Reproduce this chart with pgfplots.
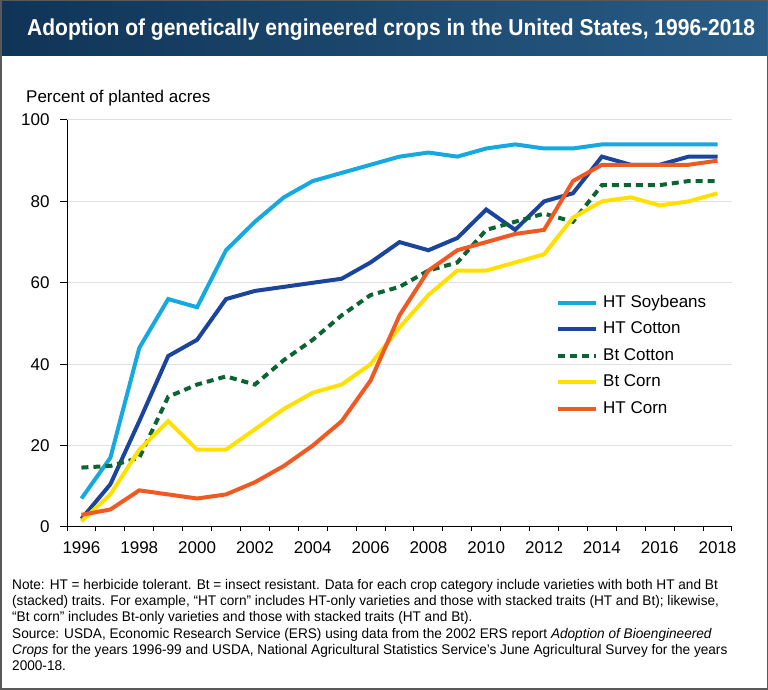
\documentclass[border=0pt]{standalone}
\usepackage{fontspec}
\setmainfont{Liberation Sans}
\newfontfamily\titlefont[FakeStretch=0.914]{Liberation Sans}
\newfontfamily\notefont[FakeStretch=0.973]{Liberation Sans}
\usepackage{pgfplots}
\pgfplotsset{compat=1.18}
\definecolor{htsoy}{RGB}{22,168,224}
\definecolor{htcot}{RGB}{27,68,156}
\definecolor{btcot}{RGB}{12,100,50}
\definecolor{btcorn}{RGB}{255,224,0}
\definecolor{htcorn}{RGB}{240,90,34}
\definecolor{bandL}{RGB}{16,52,86}
\definecolor{bandR}{RGB}{40,92,134}
\pgfplotstableread{
year soy htcot btcot btcorn htcorn
1996 7 2 14.6 1.4 3
1997 17 10.5 15 8 4.3
1998 44 26 17 19 9
1999 56 42 32 26 8
2000 54 46 35 19 7
2001 68 56 37 19 8
2002 75 58 35 24 11
2003 81 59 41 29 15
2004 85 60 46 33 20
2005 87 61 52 35 26
2006 89 65 57 40 36
2007 91 70 59 49 52
2008 92 68 63 57 63
2009 91 71 65 63 68
2010 93 78 73 63 70
2011 94 73 75 65 72
2012 93 80 77 67 73
2013 93 82 75 76 85
2014 94 91 84 80 89
2015 94 89 84 81 89
2016 94 89 84 79 89
2017 94 91 85 80 89
2018 94 91 85 82 90
}\datatable
\begin{document}
\begin{tikzpicture}[x=1pt,y=1pt]
\path[use as bounding box] (0,0) rectangle (768,690);
\shade[left color=bandL, right color=bandR] (0,634) rectangle (768,690);
\node[anchor=base west, text=white, inner sep=0pt, font=\titlefont\bfseries\fontsize{23}{26}\selectfont] at (27,654) {Adoption of genetically engineered crops in the United States, 1996-2018};
\node[anchor=base west, inner sep=0pt, font=\fontsize{17}{20}\selectfont] at (26,587) {Percent of planted acres};
\begin{axis}[
  at={(67pt,163pt)}, anchor=south west,
  scale only axis, width=665pt, height=407pt,
  xmin=1995.5, xmax=2018.5, ymin=0, ymax=100,
  axis x line*=bottom, axis y line*=left,
  axis line style={black, line width=1pt},
  xtick={1996,1998,...,2018},
  minor xtick={1995.5,1996.5,...,2018.5},
  major x tick style={draw=none},
  minor x tick style={black, line width=1pt},
  ytick={0,20,...,100},
  major y tick style={black, line width=1pt},
  tick align=outside,
  major tick length=7pt, minor tick length=4pt,
  ymajorgrids,
  major grid style={color=black!12, line width=1pt},
  /pgf/number format/assume math mode=true,
  /pgf/number format/1000 sep={},
  ticklabel style={font=\fontsize{17}{20}\selectfont},
  yticklabel style={xshift=-7pt},
  xticklabel style={yshift=-4pt},
  legend style={at={(axis description cs:0.7353,0.5725)}, anchor=north west,
    draw=none, fill=none, inner sep=0pt, row sep=9.5pt,
    nodes={inner sep=0pt, text height=13pt, text depth=4pt},
    font=\fontsize{17}{20}\selectfont,
    /tikz/every odd column/.append style={column sep=5pt}},
  legend cell align=left,
  legend image code/.code={\draw[#1] (0pt,0pt) -- (38pt,0pt);},
]
\addplot[htsoy, line width=4pt] table[x=year,y=soy]{\datatable};
\addlegendentry{HT Soybeans}
\addplot[htcot, line width=4pt] table[x=year,y=htcot]{\datatable};
\addlegendentry{HT Cotton}
\addplot[btcot, line width=4pt, dash pattern=on 7pt off 5pt] table[x=year,y=btcot]{\datatable};
\addlegendentry{Bt Cotton}
\addplot[btcorn, line width=4pt] table[x=year,y=btcorn]{\datatable};
\addlegendentry{Bt Corn}
\addplot[htcorn, line width=4pt] table[x=year,y=htcorn]{\datatable};
\addlegendentry{HT Corn}
\end{axis}
\node[anchor=north west, inner sep=0pt, align=left, font=\notefont\fontsize{14}{16.3}\selectfont] at (12,111) {Note: HT = herbicide tolerant. Bt = insect resistant. Data for each crop category include varieties with both HT and Bt\\
(stacked) traits. For example, “HT corn” includes HT-only varieties and those with stacked traits (HT and Bt); likewise,\\
“Bt corn” includes Bt-only varieties and those with stacked traits (HT and Bt).\\
Source: USDA, Economic Research Service (ERS) using data from the 2002 ERS report \textit{Adoption of Bioengineered}\\
\textit{Crops} for the years 1996-99 and USDA, National Agricultural Statistics Service’s June Agricultural Survey for the years\\
2000-18.};
\draw[black!65, line width=1.5pt] (0.75,0.75) rectangle (767.25,689.25);
\end{tikzpicture}
\end{document}
